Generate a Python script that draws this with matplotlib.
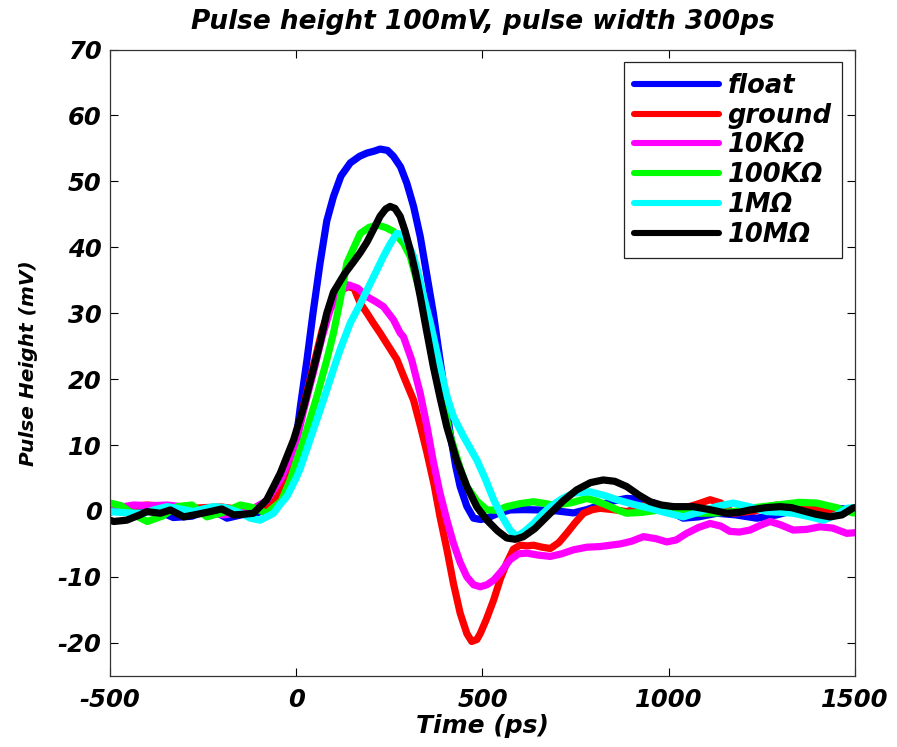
import matplotlib
matplotlib.use("Agg")
import matplotlib.pyplot as plt

# values (time in ps, height in mV)
t_float = [-500, -470, -420, -380, -330, -280, -230, -186, -140, -100, -60, -30, 0, 11, 29, 45, 64, 82, 100, 120,
           145, 170, 190, 210, 225, 245, 261, 280, 297, 315, 333, 350, 368, 395, 413, 428, 440, 458, 476, 495,
           512, 540, 574, 610, 655, 700, 744, 780, 816, 850, 887, 920, 959, 1000, 1039, 1080, 1129, 1180, 1236,
           1290, 1350, 1420, 1500]
v_float = [-0.2, 0.4, 0.6, 0.2, -1.0, -0.8, 0.3, -1.1, -0.5, -0.2, 1.5, 5.0, 11.0, 15.8, 23.0, 30.0, 37.6, 44.0,
           47.7, 50.8, 52.8, 53.8, 54.3, 54.6, 54.9, 54.7, 53.8, 52.2, 49.7, 46.2, 41.6, 36.0, 30.0, 19.4, 11.8,
           6.8, 3.7, 0.7, -1.1, -1.3, -1.1, -0.4, 0.15, 0.2, 0.15, 0.0, -0.3, 0.2, 0.9, 1.5, 1.9, 1.8, 1.2, 0.0,
           -1.1, -0.9, -0.35, -0.6, -1.1, -0.6, 0.3, 0.5, 0.2]

t_ground = [-500, -450, -400, -350, -300, -250, -200, -150, -100, -60, -30, 0, 20, 46, 70, 91, 118, 140, 155, 172,
            190, 207, 225, 243, 270, 290, 315, 335, 351, 370, 386, 405, 422, 440, 458, 471, 485, 494, 510, 530,
            548, 565, 583, 601, 620, 637, 660, 682, 705, 726, 750, 771, 795, 816, 850, 887, 920, 950, 995, 1039,
            1075, 1111, 1140, 1173, 1230, 1290, 1350, 1420, 1500]
v_ground = [0.3, 0.6, 0.9, 0.7, 0.3, 0.5, 0.6, 0.2, 0.3, 1.5, 5.0, 10.8, 16.0, 22.0, 27.5, 31.0, 33.5, 34.0, 33.8,
            31.5, 30.0, 28.5, 27.0, 25.4, 23.0, 20.2, 16.8, 12.5, 8.8, 4.0, -0.9, -6.0, -11.0, -15.5, -18.6, -19.8,
            -19.5, -18.6, -16.5, -13.5, -10.3, -7.9, -5.8, -5.2, -5.3, -5.2, -5.5, -5.7, -4.8, -3.4, -1.7, -0.35,
            0.2, 0.4, 0.2, -0.1, 0.5, 1.2, 0.6, 0.4, 1.0, 1.7, 1.2, -0.35, 0.0, 0.9, 0.4, 0.0, 0.0]

t_10k = [-500, -437, -390, -347, -300, -258, -195, -150, -115, -80, -40, 0, 20, 46, 70, 91, 118, 140, 165, 190, 212,
         234, 261, 279, 288, 310, 333, 351, 368, 386, 404, 422, 440, 458, 476, 494, 512, 530, 550, 574, 597, 619,
         650, 682, 713, 744, 780, 816, 870, 900, 932, 965, 995, 1020, 1048, 1080, 1111, 1140, 1164, 1190, 1218,
         1245, 1272, 1300, 1334, 1370, 1406, 1440, 1478, 1500]
v_10k = [0.3, 0.9, 0.8, 0.9, 0.6, 0.15, -0.6, -0.2, 0.4, 1.5, 5.0, 10.3, 15.3, 21.0, 26.5, 30.5, 33.3, 34.3, 33.8,
         32.5, 31.8, 31.0, 29.0, 27.0, 26.4, 22.9, 17.8, 12.8, 7.5, 2.7, -1.3, -4.9, -7.8, -10.0, -11.2, -11.5,
         -11.2, -10.5, -9.2, -7.4, -6.5, -6.4, -6.7, -6.9, -6.5, -5.9, -5.5, -5.4, -5.0, -4.6, -3.9, -4.2, -4.7,
         -4.4, -3.4, -2.5, -1.9, -2.3, -3.1, -3.2, -2.9, -2.2, -1.6, -2.1, -2.9, -2.8, -2.4, -2.6, -3.4, -3.3]

t_100k = [-500, -470, -435, -400, -360, -320, -280, -240, -195, -150, -115, -79, -40, -16, 0, 20, 55, 82, 100, 118,
          136, 155, 172, 195, 217, 240, 261, 288, 306, 333, 360, 386, 413, 440, 458, 485, 512, 540, 565, 600, 637,
          660, 690, 735, 780, 806, 833, 860, 887, 930, 977, 1030, 1084, 1130, 1173, 1230, 1290, 1350, 1397, 1450,
          1495, 1500]
v_100k = [1.2, 0.8, -0.6, -1.6, -0.8, 0.65, 0.9, -0.9, -0.2, 0.9, 0.5, -0.35, 1.5, 4.7, 7.5, 10.8, 17.3, 22.9,
          27.0, 32.0, 37.6, 40.0, 42.1, 43.0, 43.4, 43.0, 42.4, 40.6, 38.6, 33.0, 25.5, 18.5, 11.5, 6.5, 3.7, 1.5,
          0.15, 0.1, 0.65, 1.1, 1.4, 1.2, 0.9, 1.2, 1.9, 1.5, 0.9, 0.2, -0.35, -0.2, 0.15, 0.0, -0.35, -0.3, -0.1,
          0.5, 0.9, 1.3, 1.2, 0.5, -0.3, -0.2]

t_1m = [-500, -450, -410, -380, -347, -310, -276, -250, -222, -190, -150, -123, -97, -61, -43, -25, 0, 11, 46, 73,
        100, 118, 145, 170, 190, 210, 234, 252, 270, 288, 300, 315, 330, 342, 360, 386, 404, 422, 450, 485, 508,
        530, 552, 574, 592, 615, 637, 660, 682, 712, 744, 789, 830, 861, 905, 950, 995, 1039, 1080, 1130, 1173,
        1220, 1263, 1300, 1334, 1380, 1415, 1450, 1478, 1500]
v_1m = [-0.1, -0.3, -0.35, 0.2, 0.65, 0.3, -0.1, 0.3, 0.65, 0.5, -0.3, -1.1, -1.4, -0.35, 1.0, 2.2, 5.0, 6.5, 12.3,
        16.8, 21.5, 24.5, 28.5, 31.2, 33.5, 35.8, 38.6, 40.5, 42.1, 41.9, 40.5, 38.6, 35.5, 32.5, 28.5, 21.9, 17.5,
        14.3, 11.2, 7.7, 4.8, 1.7, -0.8, -2.9, -3.9, -3.0, -1.9, -0.5, 0.65, 1.8, 2.7, 2.9, 2.3, 1.7, 1.0, 0.4,
        -0.3, -0.9, -0.2, 0.7, 1.2, 0.6, -0.1, -0.2, -0.35, -0.9, -1.4, -0.6, 0.4, 0.5]

t_10m = [-500, -490, -455, -420, -401, -365, -338, -302, -265, -231, -200, -168, -140, -115, -79, -43, -7, 20, 46,
         64, 82, 100, 130, 154, 172, 190, 210, 225, 240, 252, 265, 279, 292, 306, 320, 333, 350, 368, 386, 404,
         430, 458, 485, 512, 540, 565, 588, 610, 640, 682, 718, 753, 790, 824, 855, 887, 920, 950, 980, 1013,
         1040, 1066, 1110, 1156, 1190, 1218, 1260, 1299, 1330, 1352, 1395, 1433, 1465, 1495, 1500]
v_10m = [-1.4, -1.6, -1.4, -0.6, -0.1, -0.35, 0.15, -0.9, -0.5, -0.1, 0.3, -0.6, -0.5, -0.35, 1.7, 5.7, 10.8,
         15.8, 21.5, 25.5, 30.0, 33.2, 36.0, 37.8, 39.2, 40.8, 43.0, 44.7, 45.8, 46.2, 45.9, 44.7, 42.5, 39.6,
         36.2, 32.5, 27.3, 21.9, 17.2, 12.8, 7.8, 3.7, 0.6, -1.4, -3.0, -4.1, -4.3, -3.9, -2.7, -0.35, 1.6, 3.2,
         4.3, 4.7, 4.5, 3.7, 2.4, 1.4, 0.9, 0.65, 0.65, 0.65, 0.2, -0.35, -0.2, 0.15, 0.5, 0.65, 0.5, 0.15, -0.5,
         -0.9, -0.6, 0.45, 0.5]

labels = ["float", "ground", "10K\u03a9", "100K\u03a9", "1M\u03a9", "10M\u03a9"]
colors = ["#0000ff", "#ff0000", "#ff00ff", "#00ff00", "#00ffff", "#000000"]

plt.rcParams["font.family"] = ["DejaVu Sans"]
plt.rcParams["font.weight"] = "bold"
plt.rcParams["font.style"] = "oblique"
plt.rcParams["axes.titleweight"] = "bold"
plt.rcParams["axes.labelweight"] = "bold"
plt.rcParams["axes.unicode_minus"] = False

fig = plt.figure(figsize=(8.97, 7.47), dpi=100)
ax = fig.add_axes([0.1226, 0.0954, 0.8306, 0.8383])

series = [(t_float, v_float), (t_ground, v_ground), (t_10k, v_10k),
          (t_100k, v_100k), (t_1m, v_1m), (t_10m, v_10m)]
for (t, v), c, lab in zip(series, colors, labels):
    ax.plot(t, v, color=c, lw=5.2, label=lab, solid_joinstyle="round", solid_capstyle="round")

ax.set_xlim(-500, 1500)
ax.set_ylim(-25, 70)
ax.set_xticks([-500, 0, 500, 1000, 1500])
ax.set_yticks([-20, -10, 0, 10, 20, 30, 40, 50, 60, 70])
ax.tick_params(direction="in", length=6, width=0.8, top=True, right=True, labelsize=17.5)
ax.tick_params(axis="x", pad=9)
ax.tick_params(axis="y", pad=6)
for s in ax.spines.values():
    s.set_linewidth(0.9)
    s.set_color("#333333")

ax.set_title("Pulse height 100mV, pulse width 300ps", fontsize=19, pad=15)
ax.set_xlabel("Time (ps)", fontsize=18, labelpad=1)
ax.set_ylabel("Pulse Height (mV)", fontsize=14.5, labelpad=14)

leg = ax.legend(loc="upper right", fontsize=18.5, handlelength=3.3, handletextpad=0.35,
                labelspacing=0.15, borderaxespad=0.5, fancybox=False, framealpha=1)
leg.get_frame().set_edgecolor("#222222")
leg.get_frame().set_linewidth(0.9)
for ln in leg.get_lines():
    ln.set_linewidth(4.4)

fig.savefig("out.png", dpi=100)
